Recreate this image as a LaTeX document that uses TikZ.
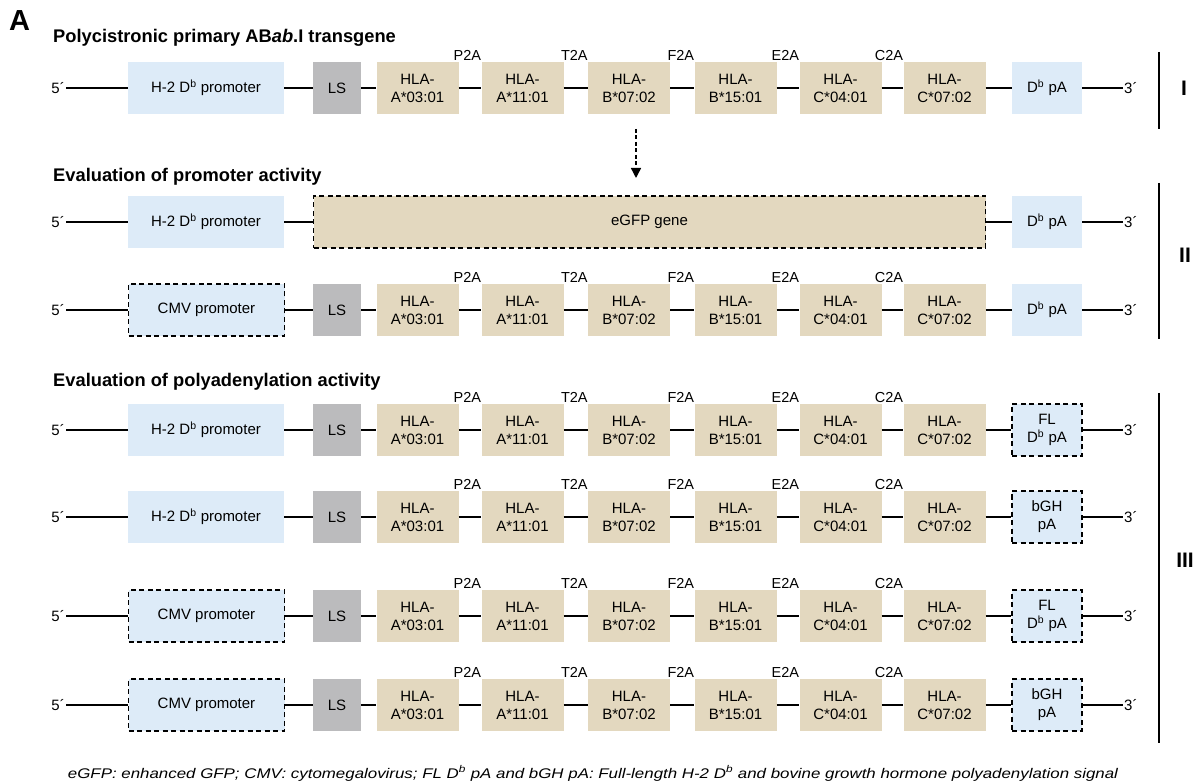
\documentclass[tikz,border=0pt]{standalone}
\usepackage{fontspec}
\setmainfont{Liberation Sans}
\usetikzlibrary{arrows.meta}
\definecolor{boxblue}{RGB}{221,235,248}
\definecolor{boxtan}{RGB}{227,216,191}
\definecolor{boxgrey}{RGB}{187,187,189}
\newcommand\bfont{\fontsize{15}{18}\selectfont}
\newcommand\sfont{\fontsize{14.5}{16}\selectfont}
\newcommand\myDb{D\textsuperscript{b}}
\newcommand\midpart[2]{%
  \node[lsbox] (#1ls) at (337,#2) {LS};
  \node[hla] (#1h1) at (417.5,#2) {HLA-\\A*03:01};
  \node[hla] (#1h2) at (522.5,#2) {HLA-\\A*11:01};
  \node[hla] (#1h3) at (629,#2) {HLA-\\B*07:02};
  \node[hla] (#1h4) at (735.5,#2) {HLA-\\B*15:01};
  \node[hla] (#1h5) at (840.5,#2) {HLA-\\C*04:01};
  \node[hla] (#1h6) at (944.5,#2) {HLA-\\C*07:02};
  \node[site] at ([yshift=1pt]#1h2.north west) {P2A};
  \node[site] at ([yshift=1pt]#1h3.north west) {T2A};
  \node[site] at ([yshift=1pt]#1h4.north west) {F2A};
  \node[site] at ([yshift=1pt]#1h5.north west) {E2A};
  \node[site] at ([yshift=1pt]#1h6.north west) {C2A};
}
\newcommand\rowterm[2]{%
  \node[endlbl, anchor=east] (#1f) at (66,#2) {5´};
  \node[endlbl, anchor=west] (#1t) at (1123,#2) {3´};
}
\newcommand\wires[1]{%
  \draw[wire] (#1f) -- (#1p) -- (#1ls) -- (#1h1) -- (#1h2) -- (#1h3) -- (#1h4)
    -- (#1h5) -- (#1h6) -- (#1a) -- (#1t);
}
\begin{document}
\begin{tikzpicture}[x=1pt,y=-1pt,
  part/.style={minimum height=52pt, inner sep=0pt, align=center, font=\bfont},
  promo/.style={part, fill=boxblue, minimum width=156pt},
  lsbox/.style={part, fill=boxgrey, minimum width=48pt},
  hla/.style={part, fill=boxtan, minimum width=82pt},
  pabox/.style={part, fill=boxblue, minimum width=70pt},
  dashbox/.style={draw=black, dash pattern=on 5pt off 3.5pt, line width=1.8pt},
  wire/.style={line width=1.6pt},
  endlbl/.style={font=\bfont, inner sep=1pt},
  site/.style={font=\sfont, inner sep=0pt, anchor=base east},
  head/.style={font=\fontsize{18.3}{20}\selectfont\bfseries, anchor=base west, inner sep=0pt},
  roman/.style={font=\fontsize{21}{23}\selectfont\bfseries},
  bar/.style={line width=1.7pt},
]
\fill[white] (0,0) rectangle (1200,783);
\useasboundingbox (0,0) rectangle (1200,783);

\node[font=\fontsize{29}{30}\selectfont\bfseries, anchor=base west, inner sep=0pt] (lblA) at (9,31) {A};

% ---------- I ----------
\node[head] (h1) at (53,43) {Polycistronic primary AB\textit{ab}.I transgene};
\rowterm{r1}{88}
\node[promo] (r1p) at (206,88) {H-2 \myDb{} promoter};
\midpart{r1}{88}
\node[pabox] (r1a) at (1047,88) {\myDb{} pA};
\wires{r1}

\coordinate (arS) at (636,129);
\coordinate (arE) at (636,178);
\draw[line width=1.4pt, dash pattern=on 4pt off 2.5pt, -{Triangle[length=10pt,width=10pt]}] (arS) -- (arE);

% ---------- II ----------
\node[head] (h2) at (53,182) {Evaluation of promoter activity};
\rowterm{r2}{222}
\node[promo] (r2p) at (206,222) {H-2 \myDb{} promoter};
\node[part, fill=boxtan, dashbox, minimum width=672pt] (r2g) at (649.5,222) {eGFP gene};
\node[pabox] (r2a) at (1047,222) {\myDb{} pA};
\draw[wire] (r2f) -- (r2p) -- (r2g) -- (r2a) -- (r2t);

\rowterm{r3}{310}
\node[promo, dashbox] (r3p) at (206.5,310) {CMV promoter};
\midpart{r3}{310}
\node[pabox] (r3a) at (1047,310) {\myDb{} pA};
\wires{r3}

% ---------- III ----------
\node[head] (h3) at (53,387) {Evaluation of polyadenylation activity};
\rowterm{r4}{430}
\node[promo] (r4p) at (206,430) {H-2 \myDb{} promoter};
\midpart{r4}{430}
\node[pabox, dashbox] (r4a) at (1047,430) {FL\\\myDb{} pA};
\wires{r4}

\rowterm{r5}{517}
\node[promo] (r5p) at (206,517) {H-2 \myDb{} promoter};
\midpart{r5}{517}
\node[pabox, dashbox] (r5a) at (1047,517) {bGH\\pA};
\wires{r5}

\rowterm{r6}{616}
\node[promo, dashbox] (r6p) at (206.5,616) {CMV promoter};
\midpart{r6}{616}
\node[pabox, dashbox] (r6a) at (1047,616) {FL\\\myDb{} pA};
\wires{r6}

\rowterm{r7}{705}
\node[promo, dashbox] (r7p) at (206.5,705) {CMV promoter};
\midpart{r7}{705}
\node[pabox, dashbox] (r7a) at (1047,705) {bGH\\pA};
\wires{r7}

% ---------- group bars ----------
\coordinate (b1t) at (1159,52); \coordinate (b1b) at (1159,129);
\coordinate (b2t) at (1159,183); \coordinate (b2b) at (1159,339);
\coordinate (b3t) at (1159,393); \coordinate (b3b) at (1159,743);
\draw[bar] (b1t) -- (b1b);
\draw[bar] (b2t) -- (b2b);
\draw[bar] (b3t) -- (b3b);
\node[roman] (g1) at (1184,88) {I};
\node[roman] (g2) at (1185,255) {II};
\node[roman] (g3) at (1185,560) {III};

% ---------- footnote ----------
\node[inner sep=0pt, anchor=base] (note) at (593,778)
  {\resizebox{1050pt}{\height}{\fontsize{14}{16}\selectfont\itshape eGFP: enhanced GFP; CMV: cytomegalovirus; FL D\textsuperscript{b} pA and bGH pA: Full-length H-2 D\textsuperscript{b} and bovine growth hormone polyadenylation signal}};
\end{tikzpicture}
\end{document}
